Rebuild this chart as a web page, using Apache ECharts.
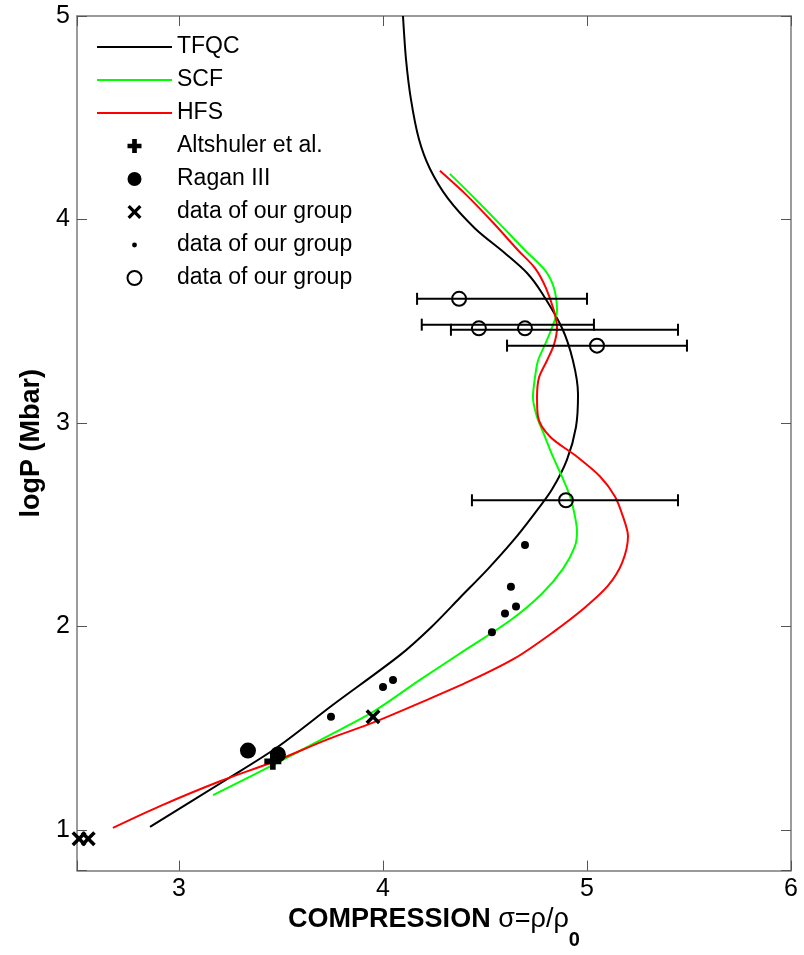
<!DOCTYPE html>
<html>
<head>
<meta charset="utf-8">
<script src="https://cdn.jsdelivr.net/npm/echarts@6/dist/echarts.min.js"></script>
<style>
  html, body { margin: 0; padding: 0; background: #fff; }
  #chart { width: 804px; height: 955px; }
</style>
</head>
<body>
<div id="chart"></div>
<script>
// Hugoniot curves: compression sigma = rho/rho0 vs log10 of pressure (Mbar)
const tfqcX = [4.098, 4.113, 4.137, 4.176, 4.23, 4.319, 4.451, 4.598, 4.706, 4.779, 4.877, 4.931, 4.956, 4.946, 4.902, 4.828, 4.74, 4.637, 4.515, 4.377, 4.235, 4.083, 3.755, 3.48, 3.235, 2.858];
const tfqcY = [5.0, 4.785, 4.59, 4.395, 4.249, 4.102, 3.956, 3.834, 3.737, 3.639, 3.468, 3.307, 3.141, 2.98, 2.82, 2.673, 2.551, 2.42, 2.283, 2.141, 1.995, 1.859, 1.615, 1.405, 1.249, 1.015];

const scfX = [4.328, 4.451, 4.574, 4.696, 4.794, 4.838, 4.853, 4.828, 4.794, 4.76, 4.745, 4.735, 4.755, 4.794, 4.833, 4.877, 4.917, 4.941, 4.951, 4.941, 4.882, 4.779, 4.623, 4.417, 4.181, 3.951, 3.725, 3.495, 3.167];
const scfY = [4.224, 4.102, 3.976, 3.849, 3.751, 3.663, 3.551, 3.468, 3.385, 3.307, 3.224, 3.127, 3.029, 2.932, 2.834, 2.737, 2.639, 2.541, 2.468, 2.395, 2.283, 2.161, 2.029, 1.893, 1.737, 1.58, 1.459, 1.337, 1.171];

const hfsX = [4.279, 4.407, 4.539, 4.662, 4.745, 4.799, 4.838, 4.853, 4.838, 4.804, 4.765, 4.755, 4.76, 4.819, 4.951, 5.064, 5.137, 5.176, 5.201, 5.172, 5.103, 4.99, 4.833, 4.647, 4.426, 4.181, 3.951, 3.725, 3.48, 3.201, 2.907, 2.676];
const hfsY = [4.239, 4.122, 3.985, 3.849, 3.761, 3.663, 3.551, 3.468, 3.385, 3.307, 3.224, 3.127, 3.029, 2.932, 2.834, 2.737, 2.639, 2.541, 2.444, 2.312, 2.2, 2.093, 1.971, 1.844, 1.732, 1.624, 1.527, 1.444, 1.341, 1.239, 1.117, 1.01];

// Experimental points
const altshulerX = [3.46];
const altshulerY = [1.337];
const raganX = [3.338, 3.485];
const raganY = [1.39, 1.371];
const groupCrossX = [2.51, 2.555, 3.951];
const groupCrossY = [0.956, 0.956, 1.556];
const groupDotX = [3.745, 4.0, 4.049, 4.534, 4.598, 4.652, 4.627, 4.696];
const groupDotY = [1.556, 1.702, 1.737, 1.971, 2.063, 2.098, 2.195, 2.4];
const groupCircX = [4.373, 4.47, 4.696, 5.049, 4.897];
const groupCircY = [3.61, 3.465, 3.465, 3.38, 2.62];

// Horizontal error bars of the open-circle points
const barY  = [3.61, 3.483, 3.458, 3.38, 2.62];
const barLo = [4.167, 4.19, 4.333, 4.608, 4.436];
const barHi = [5.0, 5.034, 5.446, 5.49, 5.446];

// Axis ranges
const xRange = [2.5, 6];
const yRange = [0.8, 5];

const FONT = 'Liberation Sans, Arial, sans-serif';
const zip = (xs, ys) => xs.map((x, i) => [x, ys[i]]);

const PLUS = 'path://M-1,-3H1V-1H3V1H1V3H-1V1H-3V-1H-1Z';
const CROSS = 'path://M-3,-2L-2,-3L0,-1L2,-3L3,-2L1,0L3,2L2,3L0,1L-2,3L-3,2L-1,0Z';
const SMALL_DOT = 'path://M0,0M20,20M13.5,10A3.5,3.5,0,1,1,6.5,10A3.5,3.5,0,1,1,13.5,10Z';
const LINE_ICON = 'path://M0,0H75V2.2H0Z';

const names = ['TFQC', 'SCF', 'HFS', 'Altshuler et al.', 'Ragan III',
  'data of our group', 'data of our group\u200b', 'data of our group\u200b\u200b'];

const intLabel = v => (Math.abs(v - Math.round(v)) < 1e-9 ? String(Math.round(v)) : '');

const axisLineStyle = { color: '#7a7a7a', width: 1.5 };
const tickStyle = { color: '#555', width: 1 };

function curve(name, xs, ys, color) {
  return {
    name, type: 'line', data: zip(xs, ys),
    smooth: 0.3, symbol: 'none', showSymbol: false,
    lineStyle: { color, width: 2 }, itemStyle: { color },
    z: 2, silent: true, animation: false
  };
}

function points(name, xs, ys, symbol, size, extra) {
  return Object.assign({
    name, type: 'scatter', data: zip(xs, ys),
    symbol, symbolSize: size,
    itemStyle: { color: '#000', opacity: 1 }, z: 4, silent: true
  }, extra || {});
}

const chart = echarts.init(document.getElementById('chart'), null, { renderer: 'canvas' });

chart.setOption({
  backgroundColor: '#fff',
  animation: false,
  grid: { left: 77, top: 16, right: 13, bottom: 79, containLabel: false },
  legend: {
    orient: 'vertical', left: 92, top: 29,
    itemWidth: 75, itemHeight: 14, itemGap: 7,
    selectedMode: false,
    textStyle: { fontFamily: FONT, fontSize: 23, color: '#000', lineHeight: 26 },
    formatter: n => n.replace(/\u200b/g, ''),
    data: [
      { name: names[0], icon: LINE_ICON },
      { name: names[1], icon: LINE_ICON },
      { name: names[2], icon: LINE_ICON },
      { name: names[3] }, { name: names[4] },
      { name: names[5], icon: CROSS },
      { name: names[6], icon: SMALL_DOT },
      { name: names[7] }
    ]
  },
  xAxis: [
    {
      type: 'value', min: xRange[0], max: xRange[1], splitNumber: 4,
      position: 'bottom',
      axisLine: { show: true, onZero: false, lineStyle: axisLineStyle },
      axisTick: { show: true, inside: true, length: 10, lineStyle: tickStyle },
      axisLabel: { formatter: intLabel, fontFamily: FONT, fontSize: 25, color: '#000', margin: 6 },
      splitLine: { show: false },
      name: '{a|COMPRESSION }{b|σ=ρ/ρ}{c|0}',
      nameLocation: 'middle', nameGap: 1,
      nameTextStyle: {
        rich: {
          a: { fontFamily: FONT, fontSize: 27, fontWeight: 'bold', color: '#000' },
          b: { fontFamily: FONT, fontSize: 27, color: '#000' },
          c: { fontFamily: FONT, fontSize: 20, fontWeight: 'bold', color: '#000', verticalAlign: 'bottom', padding: [40, 0, 0, 0] }
        }
      }
    },
    {
      type: 'value', min: xRange[0], max: xRange[1], splitNumber: 4,
      position: 'top',
      axisLine: { show: true, onZero: false, lineStyle: axisLineStyle },
      axisTick: { show: true, inside: true, length: 10, lineStyle: tickStyle },
      axisLabel: { show: false }, splitLine: { show: false }
    }
  ],
  yAxis: [
    {
      type: 'value', min: yRange[0], max: yRange[1], splitNumber: 4,
      position: 'left',
      axisLine: { show: true, onZero: false, lineStyle: axisLineStyle },
      axisTick: { show: true, inside: true, length: 10, lineStyle: tickStyle },
      axisLabel: { formatter: intLabel, fontFamily: FONT, fontSize: 25, color: '#000', margin: 7 },
      splitLine: { show: false },
      name: 'logP (Mbar)', nameLocation: 'middle', nameGap: 18, nameRotate: 90,
      nameTextStyle: { fontFamily: FONT, fontSize: 27, fontWeight: 'bold', color: '#000' }
    },
    {
      type: 'value', min: yRange[0], max: yRange[1], splitNumber: 4,
      position: 'right',
      axisLine: { show: true, onZero: false, lineStyle: axisLineStyle },
      axisTick: { show: true, inside: true, length: 10, lineStyle: tickStyle },
      axisLabel: { show: false }, splitLine: { show: false }
    }
  ],
  series: [
    curve(names[0], tfqcX, tfqcY, '#000000'),
    curve(names[1], scfX, scfY, '#00ff00'),
    curve(names[2], hfsX, hfsY, '#ff0000'),
    points(names[3], altshulerX, altshulerY, PLUS, 17),
    points(names[4], raganX, raganY, 'circle', 16),
    points(names[5], groupCrossX, groupCrossY, CROSS, 15),
    points(names[6], groupDotX, groupDotY, 'circle', 8),
    points(names[7], groupCircX, groupCircY, 'circle', 14, {
      itemStyle: { color: 'rgba(255,255,255,0)', borderColor: '#000', borderWidth: 2, opacity: 1 }, z: 5
    }),
    {
      name: 'errorbars', type: 'custom', z: 3, silent: true,
      data: barY.map((y, i) => [barLo[i], y, barHi[i]]),
      encode: { x: [0, 2], y: 1 },
      renderItem: (params, api) => {
        const y = api.value(1);
        const a = api.coord([api.value(0), y]);
        const b = api.coord([api.value(2), y]);
        const cap = 6;
        const st = { stroke: '#000', lineWidth: 2 };
        return {
          type: 'group',
          children: [
            { type: 'line', shape: { x1: a[0], y1: a[1], x2: b[0], y2: b[1] }, style: st },
            { type: 'line', shape: { x1: a[0], y1: a[1] - cap, x2: a[0], y2: a[1] + cap }, style: st },
            { type: 'line', shape: { x1: b[0], y1: b[1] - cap, x2: b[0], y2: b[1] + cap }, style: st }
          ]
        };
      }
    }
  ]
});
</script>
</body>
</html>
